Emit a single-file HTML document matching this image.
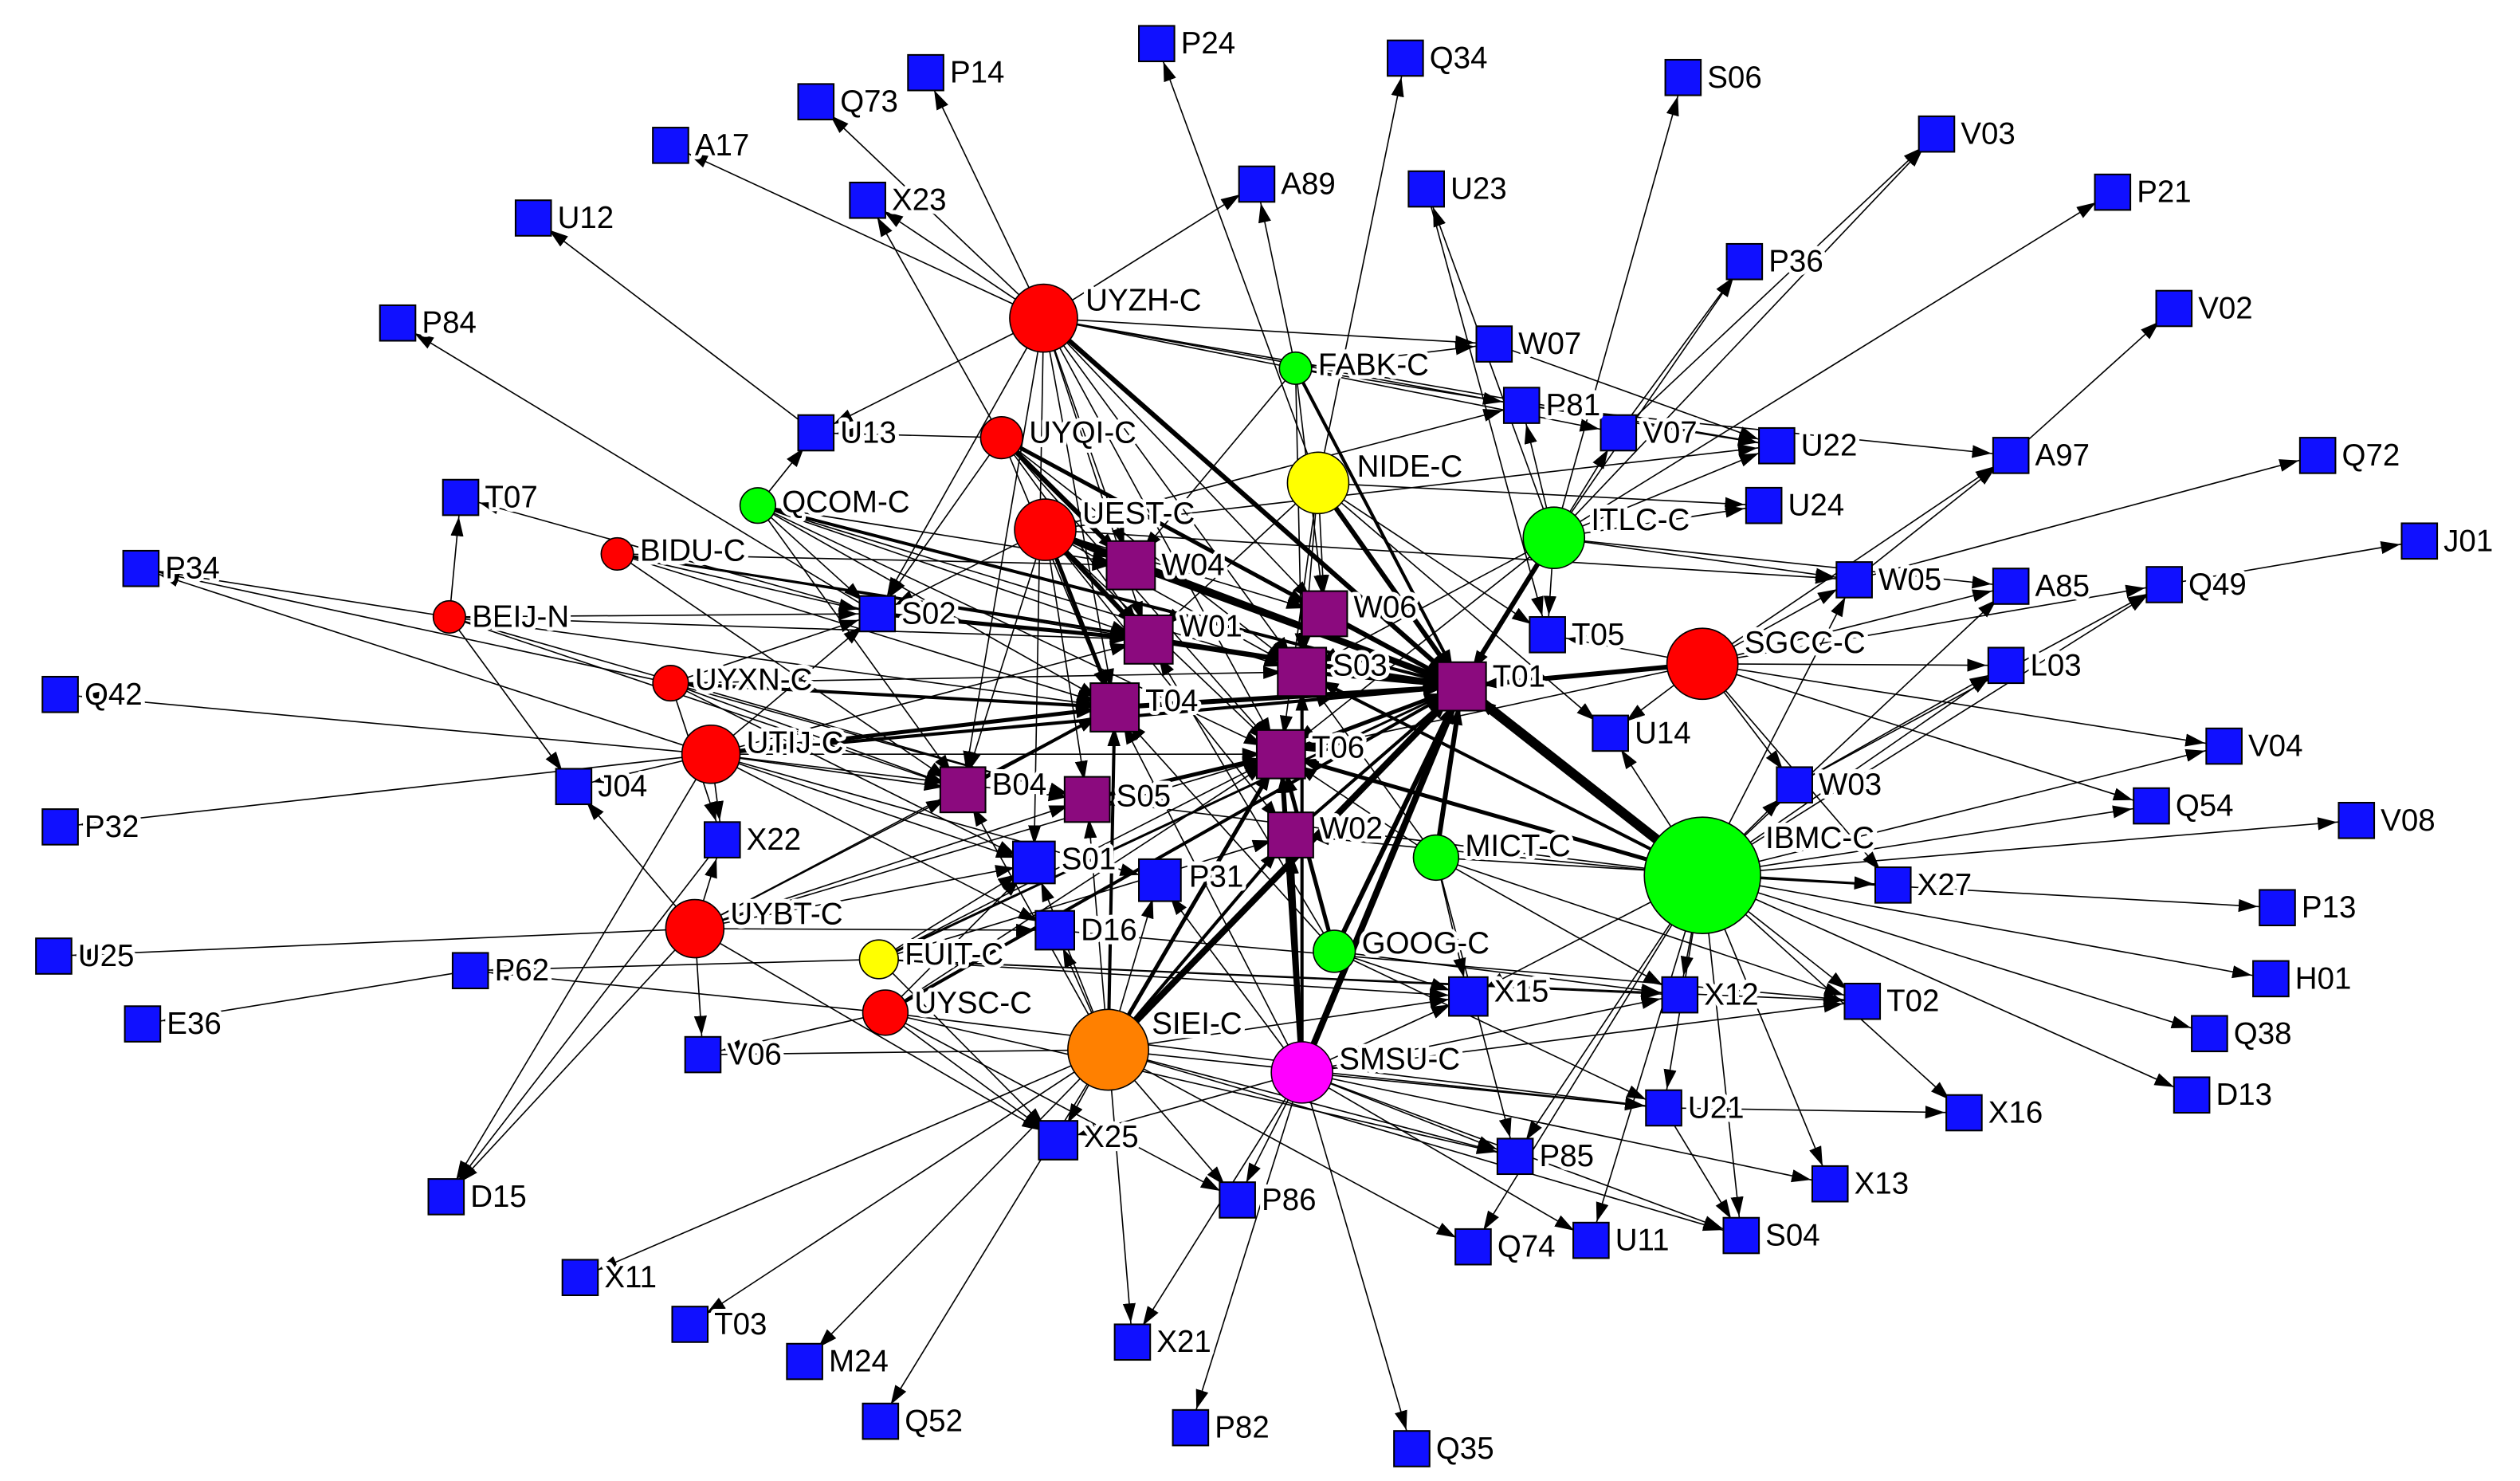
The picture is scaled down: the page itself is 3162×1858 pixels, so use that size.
<!DOCTYPE html>
<html><head><meta charset="utf-8"><style>
html,body{margin:0;padding:0;background:#fff;}
svg{display:block;}
text{font-family:"Liberation Sans","DejaVu Sans",sans-serif;font-size:19px;fill:#000;paint-order:stroke;stroke:#fff;stroke-width:5px;stroke-linejoin:round;dominant-baseline:central;}
.e line{stroke:#000;stroke-width:0.8;marker-end:url(#a);}
.t line{stroke:#000;marker-end:url(#a);}
.sq{fill:#1010ff;stroke:#000;stroke-width:1;}
.pu{fill:#8b0a7e;stroke:#000;stroke-width:1;}
circle{stroke:#000;stroke-width:0.8;}
</style></head><body>
<svg width="3162" height="1858" viewBox="0 0 1560 917" xmlns="http://www.w3.org/2000/svg">
<defs><marker id="a" markerUnits="userSpaceOnUse" markerWidth="14" markerHeight="10" refX="24" refY="4" orient="auto"><path d="M0,0L12,4L0,8z" fill="#000"/></marker></defs>
<g class="e">
<!-- UYZH -->
<line x1="646" y1="197" x2="573" y2="45"/><line x1="646" y1="197" x2="505" y2="63"/><line x1="646" y1="197" x2="415" y2="90"/><line x1="646" y1="197" x2="537" y2="124"/><line x1="646" y1="197" x2="778" y2="114"/><line x1="646" y1="197" x2="925" y2="213"/><line x1="646" y1="197" x2="942" y2="251"/><line x1="646" y1="197" x2="1002" y2="268"/><line x1="646" y1="197" x2="1100" y2="276"/><line x1="646" y1="197" x2="505" y2="268"/><line x1="646" y1="197" x2="543" y2="380"/><line x1="646" y1="197" x2="700" y2="350"/><line x1="646" y1="197" x2="711" y2="396"/><line x1="646" y1="197" x2="690" y2="438"/><line x1="646" y1="197" x2="806" y2="416"/><line x1="646" y1="197" x2="820" y2="380"/><line x1="646" y1="197" x2="640" y2="535"/><line x1="646" y1="197" x2="596" y2="489"/><line x1="646" y1="197" x2="793" y2="467"/>
<!-- UYQI -->
<line x1="620" y1="271" x2="537" y2="124"/><line x1="620" y1="271" x2="505" y2="268"/><line x1="620" y1="271" x2="543" y2="380"/><line x1="620" y1="271" x2="690" y2="438"/><line x1="620" y1="271" x2="806" y2="416"/><line x1="620" y1="271" x2="793" y2="467"/><line x1="620" y1="271" x2="820" y2="380"/><line x1="620" y1="271" x2="711" y2="396"/>
<!-- UEST -->
<line x1="647" y1="328" x2="942" y2="251"/><line x1="647" y1="328" x2="1100" y2="276"/><line x1="647" y1="328" x2="1148" y2="359"/><line x1="647" y1="328" x2="820" y2="380"/><line x1="647" y1="328" x2="806" y2="416"/><line x1="647" y1="328" x2="793" y2="467"/><line x1="647" y1="328" x2="673" y2="495"/><line x1="647" y1="328" x2="596" y2="489"/><line x1="647" y1="328" x2="543" y2="380"/><line x1="647" y1="328" x2="799" y2="517"/>
<!-- NIDE -->
<line x1="816" y1="299" x2="716" y2="27"/><line x1="816" y1="299" x2="870" y2="36"/><line x1="816" y1="299" x2="820" y2="380"/><line x1="816" y1="299" x2="806" y2="416"/><line x1="816" y1="299" x2="711" y2="396"/><line x1="816" y1="299" x2="793" y2="467"/><line x1="816" y1="299" x2="997" y2="454"/><line x1="816" y1="299" x2="958" y2="393"/><line x1="816" y1="299" x2="1092" y2="313"/>
<!-- FABK -->
<line x1="802" y1="228" x2="778" y2="114"/><line x1="802" y1="228" x2="925" y2="213"/><line x1="802" y1="228" x2="1100" y2="276"/><line x1="802" y1="228" x2="820" y2="380"/><line x1="802" y1="228" x2="806" y2="416"/><line x1="802" y1="228" x2="700" y2="350"/>
<!-- ITLC -->
<line x1="962" y1="333" x2="1042" y2="48"/><line x1="962" y1="333" x2="1199" y2="83"/><line x1="962" y1="333" x2="1308" y2="119"/><line x1="962" y1="333" x2="1080" y2="162"/><line x1="962" y1="333" x2="1002" y2="268"/><line x1="962" y1="333" x2="1100" y2="276"/><line x1="962" y1="333" x2="958" y2="393"/><line x1="962" y1="333" x2="1148" y2="359"/><line x1="962" y1="333" x2="1092" y2="313"/><line x1="962" y1="333" x2="942" y2="251"/><line x1="962" y1="333" x2="883" y2="117"/><line x1="962" y1="333" x2="793" y2="467"/><line x1="962" y1="333" x2="806" y2="416"/><line x1="962" y1="333" x2="1245" y2="363"/>
<!-- SGCC -->
<line x1="1054" y1="411" x2="1242" y2="412"/><line x1="1054" y1="411" x2="1340" y2="362"/><line x1="1054" y1="411" x2="1377" y2="462"/><line x1="1054" y1="411" x2="1332" y2="499"/><line x1="1054" y1="411" x2="1148" y2="359"/><line x1="1054" y1="411" x2="1245" y2="363"/><line x1="1054" y1="411" x2="958" y2="393"/><line x1="1054" y1="411" x2="997" y2="454"/><line x1="1054" y1="411" x2="1245" y2="282"/><line x1="1054" y1="411" x2="793" y2="467"/><line x1="1054" y1="411" x2="1111" y2="486"/><line x1="1054" y1="411" x2="1172" y2="548"/>
<!-- IBMC -->
<line x1="1054" y1="542" x2="1172" y2="548"/><line x1="1054" y1="542" x2="1410" y2="562"/><line x1="1054" y1="542" x2="1459" y2="508"/><line x1="1054" y1="542" x2="1406" y2="606"/><line x1="1054" y1="542" x2="1368" y2="640"/><line x1="1054" y1="542" x2="1357" y2="678"/><line x1="1054" y1="542" x2="1153" y2="620"/><line x1="1054" y1="542" x2="1040" y2="616"/><line x1="1054" y1="542" x2="1133" y2="733"/><line x1="1054" y1="542" x2="1030" y2="686"/><line x1="1054" y1="542" x2="1078" y2="765"/><line x1="1054" y1="542" x2="985" y2="768"/><line x1="1054" y1="542" x2="912" y2="772"/><line x1="1054" y1="542" x2="938" y2="716"/><line x1="1054" y1="542" x2="909" y2="617"/><line x1="1054" y1="542" x2="1111" y2="486"/><line x1="1054" y1="542" x2="997" y2="454"/><line x1="1054" y1="542" x2="1245" y2="363"/><line x1="1054" y1="542" x2="1148" y2="359"/><line x1="1054" y1="542" x2="1340" y2="362"/><line x1="1054" y1="542" x2="1377" y2="462"/><line x1="1054" y1="542" x2="1332" y2="499"/><line x1="1054" y1="542" x2="1242" y2="412"/><line x1="1054" y1="542" x2="1216" y2="689"/><line x1="1054" y1="542" x2="799" y2="517"/><line x1="1054" y1="542" x2="673" y2="495"/>
<!-- SIEI -->
<line x1="686" y1="650" x2="640" y2="535"/><line x1="686" y1="650" x2="653" y2="576"/><line x1="686" y1="650" x2="655" y2="706"/><line x1="686" y1="650" x2="359" y2="791"/><line x1="686" y1="650" x2="427" y2="820"/><line x1="686" y1="650" x2="498" y2="843"/><line x1="686" y1="650" x2="545" y2="880"/><line x1="686" y1="650" x2="701" y2="831"/><line x1="686" y1="650" x2="766" y2="743"/><line x1="686" y1="650" x2="912" y2="772"/><line x1="686" y1="650" x2="1030" y2="686"/><line x1="686" y1="650" x2="909" y2="617"/><line x1="686" y1="650" x2="690" y2="438"/><line x1="686" y1="650" x2="596" y2="489"/><line x1="686" y1="650" x2="673" y2="495"/><line x1="686" y1="650" x2="799" y2="517"/><line x1="686" y1="650" x2="717" y2="545"/><line x1="686" y1="650" x2="938" y2="716"/><line x1="686" y1="650" x2="1078" y2="765"/>
<!-- SMSU -->
<line x1="806" y1="664" x2="874" y2="897"/><line x1="806" y1="664" x2="737" y2="884"/><line x1="806" y1="664" x2="701" y2="831"/><line x1="806" y1="664" x2="938" y2="716"/><line x1="806" y1="664" x2="909" y2="617"/><line x1="806" y1="664" x2="1040" y2="616"/><line x1="806" y1="664" x2="1030" y2="686"/><line x1="806" y1="664" x2="1153" y2="620"/><line x1="806" y1="664" x2="1078" y2="765"/><line x1="806" y1="664" x2="655" y2="706"/><line x1="806" y1="664" x2="766" y2="743"/><line x1="806" y1="664" x2="985" y2="768"/><line x1="806" y1="664" x2="1133" y2="733"/><line x1="806" y1="664" x2="717" y2="545"/><line x1="806" y1="664" x2="690" y2="438"/>
<!-- GOOG / MICT -->
<line x1="826" y1="589" x2="909" y2="617"/><line x1="826" y1="589" x2="1040" y2="616"/><line x1="826" y1="589" x2="690" y2="438"/><line x1="826" y1="589" x2="711" y2="396"/><line x1="826" y1="589" x2="1030" y2="686"/><line x1="889" y1="531" x2="1040" y2="616"/><line x1="889" y1="531" x2="1153" y2="620"/><line x1="889" y1="531" x2="909" y2="617"/><line x1="889" y1="531" x2="793" y2="467"/><line x1="889" y1="531" x2="938" y2="716"/><line x1="889" y1="531" x2="1172" y2="548"/><line x1="889" y1="531" x2="806" y2="416"/>
<!-- left reds -->
<line x1="440" y1="467" x2="37" y2="430"/><line x1="440" y1="467" x2="37" y2="512"/><line x1="440" y1="467" x2="87" y2="352"/><line x1="440" y1="467" x2="355" y2="487"/><line x1="440" y1="467" x2="447" y2="520"/><line x1="440" y1="467" x2="543" y2="380"/><line x1="440" y1="467" x2="596" y2="489"/><line x1="440" y1="467" x2="673" y2="495"/><line x1="440" y1="467" x2="640" y2="535"/><line x1="440" y1="467" x2="653" y2="576"/><line x1="440" y1="467" x2="793" y2="467"/><line x1="440" y1="467" x2="276" y2="741"/><line x1="440" y1="467" x2="711" y2="396"/><line x1="440" y1="467" x2="717" y2="545"/>
<line x1="415" y1="423" x2="87" y2="352"/><line x1="415" y1="423" x2="543" y2="380"/><line x1="415" y1="423" x2="596" y2="489"/><line x1="415" y1="423" x2="447" y2="520"/><line x1="415" y1="423" x2="640" y2="535"/><line x1="415" y1="423" x2="673" y2="495"/><line x1="415" y1="423" x2="806" y2="416"/>
<line x1="430" y1="575" x2="33" y2="592"/><line x1="430" y1="575" x2="276" y2="741"/><line x1="430" y1="575" x2="435" y2="653"/><line x1="430" y1="575" x2="355" y2="487"/><line x1="430" y1="575" x2="447" y2="520"/><line x1="430" y1="575" x2="596" y2="489"/><line x1="430" y1="575" x2="673" y2="495"/><line x1="430" y1="575" x2="640" y2="535"/><line x1="430" y1="575" x2="690" y2="438"/><line x1="430" y1="575" x2="655" y2="706"/><line x1="430" y1="575" x2="793" y2="467"/><line x1="430" y1="575" x2="653" y2="576"/>
<line x1="548" y1="627" x2="291" y2="601"/><line x1="548" y1="627" x2="435" y2="653"/><line x1="548" y1="627" x2="655" y2="706"/><line x1="548" y1="627" x2="640" y2="535"/><line x1="548" y1="627" x2="793" y2="467"/><line x1="548" y1="627" x2="766" y2="743"/><line x1="548" y1="627" x2="938" y2="716"/><line x1="548" y1="627" x2="1030" y2="686"/>
<line x1="544" y1="594" x2="291" y2="601"/><line x1="544" y1="594" x2="655" y2="706"/><line x1="544" y1="594" x2="640" y2="535"/><line x1="544" y1="594" x2="793" y2="467"/><line x1="544" y1="594" x2="799" y2="517"/><line x1="544" y1="594" x2="909" y2="617"/><line x1="544" y1="594" x2="1040" y2="616"/><line x1="544" y1="594" x2="1153" y2="620"/>
<line x1="278" y1="382" x2="285" y2="308"/><line x1="278" y1="382" x2="87" y2="352"/><line x1="278" y1="382" x2="543" y2="380"/><line x1="278" y1="382" x2="355" y2="487"/><line x1="278" y1="382" x2="711" y2="396"/><line x1="278" y1="382" x2="690" y2="438"/><line x1="278" y1="382" x2="596" y2="489"/><line x1="278" y1="382" x2="673" y2="495"/>
<line x1="382" y1="343" x2="543" y2="380"/><line x1="382" y1="343" x2="711" y2="396"/><line x1="382" y1="343" x2="690" y2="438"/><line x1="382" y1="343" x2="596" y2="489"/><line x1="382" y1="343" x2="700" y2="350"/>
<line x1="469" y1="313" x2="505" y2="268"/><line x1="469" y1="313" x2="700" y2="350"/><line x1="469" y1="313" x2="711" y2="396"/><line x1="469" y1="313" x2="543" y2="380"/><line x1="469" y1="313" x2="806" y2="416"/><line x1="469" y1="313" x2="690" y2="438"/><line x1="469" y1="313" x2="596" y2="489"/><line x1="469" y1="313" x2="793" y2="467"/>
<!-- misc -->
<line x1="1002" y1="268" x2="1080" y2="162"/><line x1="1002" y1="268" x2="1199" y2="83"/><line x1="1245" y1="282" x2="1346" y2="191"/><line x1="1340" y1="362" x2="1498" y2="335"/><line x1="1148" y1="359" x2="1435" y2="282"/><line x1="1148" y1="359" x2="1245" y2="282"/><line x1="1030" y1="686" x2="1216" y2="689"/><line x1="291" y1="601" x2="88" y2="634"/><line x1="505" y1="268" x2="330" y2="135"/><line x1="543" y1="380" x2="246" y2="200"/><line x1="447" y1="520" x2="276" y2="741"/><line x1="883" y1="117" x2="958" y2="393"/><line x1="543" y1="380" x2="285" y2="308"/><line x1="942" y1="251" x2="1245" y2="282"/><line x1="925" y1="213" x2="1100" y2="276"/><line x1="1111" y1="486" x2="1242" y2="412"/><line x1="1111" y1="486" x2="1340" y2="362"/><line x1="435" y1="653" x2="686" y2="650"/><line x1="653" y1="576" x2="1153" y2="620"/><line x1="1030" y1="686" x2="1078" y2="765"/>
</g>
<g class="t">
<line x1="647" y1="328" x2="905" y2="425" stroke-width="4"/><line x1="646" y1="197" x2="905" y2="425" stroke-width="3"/><line x1="686" y1="650" x2="905" y2="425" stroke-width="4"/><line x1="806" y1="664" x2="905" y2="425" stroke-width="4"/><line x1="1054" y1="542" x2="905" y2="425" stroke-width="6"/><line x1="826" y1="589" x2="905" y2="425" stroke-width="3"/><line x1="889" y1="531" x2="905" y2="425" stroke-width="3"/><line x1="711" y1="396" x2="905" y2="425" stroke-width="3"/><line x1="690" y1="438" x2="905" y2="425" stroke-width="3"/><line x1="700" y1="350" x2="905" y2="425" stroke-width="3"/><line x1="620" y1="271" x2="700" y2="350" stroke-width="3"/><line x1="620" y1="271" x2="905" y2="425" stroke-width="2.5"/><line x1="816" y1="299" x2="905" y2="425" stroke-width="3"/><line x1="962" y1="333" x2="905" y2="425" stroke-width="3"/><line x1="1054" y1="411" x2="905" y2="425" stroke-width="3"/><line x1="647" y1="328" x2="711" y2="396" stroke-width="3"/><line x1="647" y1="328" x2="700" y2="350" stroke-width="3"/><line x1="647" y1="328" x2="690" y2="438" stroke-width="2.5"/><line x1="806" y1="664" x2="793" y2="467" stroke-width="3"/><line x1="686" y1="650" x2="793" y2="467" stroke-width="2.5"/><line x1="826" y1="589" x2="793" y2="467" stroke-width="2.5"/><line x1="806" y1="664" x2="806" y2="416" stroke-width="2"/><line x1="802" y1="228" x2="905" y2="425" stroke-width="2"/><line x1="1054" y1="542" x2="793" y2="467" stroke-width="2.5"/><line x1="1054" y1="542" x2="806" y2="416" stroke-width="2"/><line x1="793" y1="467" x2="905" y2="425" stroke-width="2.5"/><line x1="806" y1="416" x2="905" y2="425" stroke-width="2.5"/><line x1="820" y1="380" x2="905" y2="425" stroke-width="2.5"/><line x1="799" y1="517" x2="905" y2="425" stroke-width="2"/><line x1="673" y1="495" x2="793" y2="467" stroke-width="2.5"/><line x1="596" y1="489" x2="690" y2="438" stroke-width="2"/><line x1="543" y1="380" x2="711" y2="396" stroke-width="2.5"/><line x1="440" y1="467" x2="690" y2="438" stroke-width="2.5"/><line x1="440" y1="467" x2="905" y2="425" stroke-width="2"/><line x1="415" y1="423" x2="690" y2="438" stroke-width="2"/><line x1="382" y1="343" x2="905" y2="425" stroke-width="1.5"/><line x1="469" y1="313" x2="905" y2="425" stroke-width="2"/><line x1="548" y1="627" x2="905" y2="425" stroke-width="2"/><line x1="544" y1="594" x2="905" y2="425" stroke-width="1.5"/><line x1="686" y1="650" x2="690" y2="438" stroke-width="2"/><line x1="806" y1="664" x2="799" y2="517" stroke-width="2.5"/><line x1="686" y1="650" x2="799" y2="517" stroke-width="2"/></g>
<!-- circles -->
<circle cx="646" cy="197" r="21" fill="#f00"/><circle cx="620" cy="271" r="13" fill="#f00"/><circle cx="647" cy="328" r="19" fill="#f00"/><circle cx="382" cy="343" r="10" fill="#f00"/><circle cx="278" cy="382" r="10" fill="#f00"/><circle cx="415" cy="423" r="11" fill="#f00"/><circle cx="440" cy="467" r="18" fill="#f00"/><circle cx="430" cy="575" r="18" fill="#f00"/><circle cx="548" cy="627" r="14" fill="#f00"/><circle cx="1054" cy="411" r="22" fill="#f00"/>
<circle cx="802" cy="228" r="10" fill="#0f0"/><circle cx="469" cy="313" r="11" fill="#0f0"/><circle cx="962" cy="333" r="19" fill="#0f0"/><circle cx="889" cy="531" r="14" fill="#0f0"/><circle cx="826" cy="589" r="13" fill="#0f0"/><circle cx="1054" cy="542" r="36" fill="#0f0"/>
<circle cx="816" cy="299" r="19" fill="#ff0"/><circle cx="544" cy="594" r="12" fill="#ff0"/><circle cx="686" cy="650" r="25" fill="#ff8000"/><circle cx="806" cy="664" r="19" fill="#ff00ff"/>
<!-- purple -->
<g class="pu"><rect x="685" y="335" width="30" height="30"/><rect x="696" y="381" width="30" height="30"/><rect x="806" y="366" width="28" height="28"/><rect x="791" y="401" width="30" height="30"/><rect x="890" y="410" width="30" height="30"/><rect x="675" y="423" width="30" height="30"/><rect x="778" y="452" width="30" height="30"/><rect x="582" y="475" width="28" height="28"/><rect x="659" y="481" width="28" height="28"/><rect x="785" y="503" width="28" height="28"/></g>
<!-- blue squares -->
<g class="sq">
<rect x="562" y="34" width="22" height="22"/><rect x="705" y="16" width="22" height="22"/><rect x="859" y="25" width="22" height="22"/><rect x="1031" y="37" width="22" height="22"/><rect x="1188" y="72" width="22" height="22"/><rect x="1297" y="108" width="22" height="22"/><rect x="494" y="52" width="22" height="22"/><rect x="404" y="79" width="22" height="22"/><rect x="526" y="113" width="22" height="22"/><rect x="767" y="103" width="22" height="22"/><rect x="872" y="106" width="22" height="22"/><rect x="319" y="124" width="22" height="22"/><rect x="1069" y="151" width="22" height="22"/><rect x="1335" y="180" width="22" height="22"/><rect x="235" y="189" width="22" height="22"/><rect x="914" y="202" width="22" height="22"/><rect x="931" y="240" width="22" height="22"/><rect x="991" y="257" width="22" height="22"/><rect x="1089" y="265" width="22" height="22"/><rect x="1234" y="271" width="22" height="22"/><rect x="1424" y="271" width="22" height="22"/><rect x="494" y="257" width="22" height="22"/><rect x="274" y="297" width="22" height="22"/><rect x="1081" y="302" width="22" height="22"/><rect x="1487" y="324" width="22" height="22"/><rect x="76" y="341" width="22" height="22"/><rect x="532" y="369" width="22" height="22"/><rect x="1137" y="348" width="22" height="22"/><rect x="1234" y="352" width="22" height="22"/><rect x="1329" y="351" width="22" height="22"/><rect x="947" y="382" width="22" height="22"/><rect x="1231" y="401" width="22" height="22"/><rect x="26" y="419" width="22" height="22"/><rect x="986" y="443" width="22" height="22"/><rect x="1366" y="451" width="22" height="22"/><rect x="344" y="476" width="22" height="22"/><rect x="1100" y="475" width="22" height="22"/><rect x="1321" y="488" width="22" height="22"/><rect x="26" y="501" width="22" height="22"/><rect x="436" y="509" width="22" height="22"/><rect x="1448" y="497" width="22" height="22"/><rect x="627" y="521" width="26" height="26"/><rect x="705" y="532" width="26" height="26"/><rect x="1161" y="537" width="22" height="22"/><rect x="641" y="564" width="24" height="24"/><rect x="1399" y="551" width="22" height="22"/><rect x="22" y="581" width="22" height="22"/><rect x="280" y="590" width="22" height="22"/><rect x="1395" y="595" width="22" height="22"/><rect x="897" y="605" width="24" height="24"/><rect x="1029" y="605" width="22" height="22"/><rect x="1142" y="609" width="22" height="22"/><rect x="77" y="623" width="22" height="22"/><rect x="1357" y="629" width="22" height="22"/><rect x="424" y="642" width="22" height="22"/><rect x="1019" y="675" width="22" height="22"/><rect x="1346" y="667" width="22" height="22"/><rect x="1205" y="678" width="22" height="22"/><rect x="643" y="694" width="24" height="24"/><rect x="927" y="705" width="22" height="22"/><rect x="1122" y="722" width="22" height="22"/><rect x="265" y="730" width="22" height="22"/><rect x="755" y="732" width="22" height="22"/><rect x="901" y="761" width="22" height="22"/><rect x="974" y="757" width="22" height="22"/><rect x="1067" y="754" width="22" height="22"/><rect x="348" y="780" width="22" height="22"/><rect x="416" y="809" width="22" height="22"/><rect x="690" y="820" width="22" height="22"/><rect x="487" y="832" width="22" height="22"/><rect x="534" y="869" width="22" height="22"/><rect x="726" y="873" width="22" height="22"/><rect x="863" y="886" width="22" height="22"/>
</g>
<g>
<text x="588" y="45">P14</text><text x="731" y="27">P24</text><text x="885" y="36">Q34</text><text x="1057" y="48">S06</text><text x="1214" y="83">V03</text><text x="1323" y="119">P21</text><text x="520" y="63">Q73</text><text x="430" y="90">A17</text><text x="552" y="124">X23</text><text x="793" y="114">A89</text><text x="898" y="117">U23</text><text x="345" y="135">U12</text><text x="1095" y="162">P36</text><text x="1361" y="191">V02</text><text x="261" y="200">P84</text><text x="940" y="213">W07</text><text x="957" y="251">P81</text><text x="1017" y="268">V07</text><text x="1115" y="276">U22</text><text x="1260" y="282">A97</text><text x="1450" y="282">Q72</text><text x="520" y="268">U13</text><text x="300" y="308">T07</text><text x="1107" y="313">U24</text><text x="1513" y="335">J01</text><text x="102" y="352">P34</text><text x="558" y="380">S02</text><text x="1163" y="359">W05</text><text x="1260" y="363">A85</text><text x="1355" y="362">Q49</text><text x="973" y="393">T05</text><text x="1257" y="412">L03</text><text x="52" y="430">Q42</text><text x="1012" y="454">U14</text><text x="1392" y="462">V04</text><text x="370" y="487">J04</text><text x="1126" y="486">W03</text><text x="1347" y="499">Q54</text><text x="52" y="512">P32</text><text x="462" y="520">X22</text><text x="1474" y="508">V08</text><text x="657" y="532">S01</text><text x="736" y="543">P31</text><text x="1187" y="548">X27</text><text x="669" y="576">D16</text><text x="1425" y="562">P13</text><text x="48" y="592">U25</text><text x="306" y="601">P62</text><text x="1421" y="606">H01</text><text x="925" y="614">X15</text><text x="1055" y="616">X12</text><text x="1168" y="620">T02</text><text x="103" y="634">E36</text><text x="1383" y="640">Q38</text><text x="450" y="653">V06</text><text x="1045" y="686">U21</text><text x="1372" y="678">D13</text><text x="1231" y="689">X16</text><text x="671" y="704">X25</text><text x="953" y="716">P85</text><text x="1148" y="733">X13</text><text x="291" y="741">D15</text><text x="781" y="743">P86</text><text x="927" y="772">Q74</text><text x="1000" y="768">U11</text><text x="1093" y="765">S04</text><text x="374" y="791">X11</text><text x="442" y="820">T03</text><text x="716" y="831">X21</text><text x="513" y="843">M24</text><text x="560" y="880">Q52</text><text x="752" y="884">P82</text><text x="889" y="897">Q35</text>
<text x="719" y="350">W04</text><text x="730" y="388">W01</text><text x="838" y="376">W06</text><text x="825" y="412">S03</text><text x="924" y="419">T01</text><text x="709" y="434">T04</text><text x="812" y="463">T06</text><text x="614" y="486">B04</text><text x="691" y="493">S05</text><text x="817" y="513">W02</text>
<text x="672" y="186">UYZH-C</text><text x="637" y="268">UYQI-C</text><text x="670" y="318">UEST-C</text><text x="396" y="341">BIDU-C</text><text x="292" y="382">BEIJ-N</text><text x="430" y="421">UYXN-C</text><text x="462" y="460">UTIJ-C</text><text x="452" y="566">UYBT-C</text><text x="566" y="621">UYSC-C</text><text x="1080" y="398">SGCC-C</text><text x="816" y="226">FABK-C</text><text x="484" y="311">QCOM-C</text><text x="985" y="322">ITLC-C</text><text x="907" y="524">MICT-C</text><text x="843" y="584">GOOG-C</text><text x="1093" y="519">IBMC-C</text><text x="840" y="289">NIDE-C</text><text x="560" y="591">FUIT-C</text><text x="713" y="634">SIEI-C</text><text x="829" y="656">SMSU-C</text>
</g>
</svg>
</body></html>
